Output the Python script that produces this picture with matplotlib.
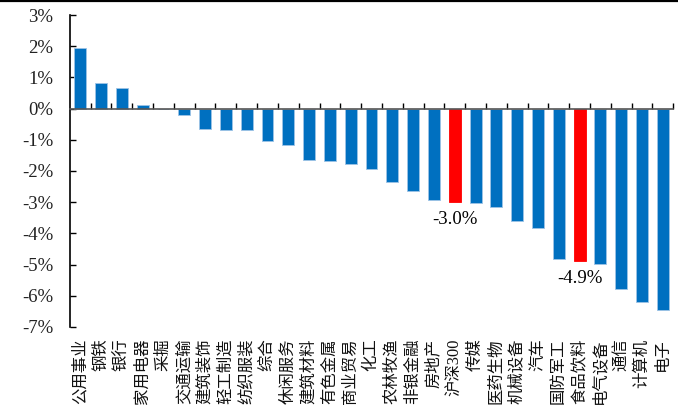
import matplotlib.pyplot as plt
from matplotlib.lines import Line2D

# sector returns (%)
sectors = ['公用事业', '钢铁', '银行', '家用电器', '采掘', '交通运输', '建筑装饰', '轻工制造',
           '纺织服装', '综合', '休闲服务', '建筑材料', '有色金属', '商业贸易', '化工', '农林牧渔',
           '非银金融', '房地产', '沪深300', '传媒', '医药生物', '机械设备', '汽车', '国防军工',
           '食品饮料', '电气设备', '通信', '计算机', '电子']
returns = [1.95, 0.81, 0.66, 0.13, 0.0, -0.19, -0.66, -0.68,
           -0.69, -1.03, -1.16, -1.66, -1.68, -1.77, -1.93, -2.37,
           -2.63, -2.94, -3.00, -3.02, -3.16, -3.61, -3.82, -4.82,
           -4.90, -4.97, -5.77, -6.21, -6.46]
highlight = ['沪深300', '食品饮料']
yticks = [3, 2, 1, 0, -1, -2, -3, -4, -5, -6, -7]

plt.rcParams['font.family'] = ['Liberation Serif', 'Noto Sans CJK SC']

fig = plt.figure(figsize=(6.78, 4.18), dpi=100)
ax = fig.add_axes([0.103, 0.218, 0.890, 0.746])

x = list(range(len(sectors)))
colors = ['#FF0000' if s in highlight else '#0070C0' for s in sectors]
edges = ['#FF0000' if s in highlight else '#9DC3E6' for s in sectors]
ax.bar(x, returns, width=0.57, color=colors, edgecolor=edges, linewidth=0.6, zorder=2)

ax.set_xlim(-0.5, len(sectors) - 0.5)
ax.set_ylim(-7, 3)
ax.set_yticks(yticks)
ax.set_yticklabels([f'{v}%' for v in yticks], fontsize=13.5, color='#222222')
ax.tick_params(axis='y', direction='in', length=4, width=1, pad=12)

# x axis sits on zero, ticks between categories
ax.spines['bottom'].set_position(('data', 0))
ax.spines['top'].set_visible(False)
ax.spines['right'].set_visible(False)
ax.spines['left'].set_linewidth(1.2)
ax.spines['bottom'].set_color('#555555')
ax.spines['bottom'].set_linewidth(1.2)
ax.set_xticks([i + 0.5 for i in x])
ax.set_xticklabels([])
ax.tick_params(axis='x', direction='in', length=4, width=1)

# category names at the bottom, rotated
for i, s in enumerate(sectors):
    ax.text(i, -0.038, s, rotation=90, ha='center', va='top', fontsize=11.8,
            transform=ax.get_xaxis_transform(), color='#111111')

ax.text(sectors.index('沪深300'), -3.55, '-3.0%', ha='center', va='center', fontsize=13.5)
ax.text(sectors.index('食品饮料'), -5.45, '-4.9%', ha='center', va='center', fontsize=13.5)

# thick line along the top of the image
fig.add_artist(Line2D([0, 1], [0.9965, 0.9965], color='black', linewidth=1.6,
                      transform=fig.transFigure))

fig.savefig('out.png', dpi=100)
